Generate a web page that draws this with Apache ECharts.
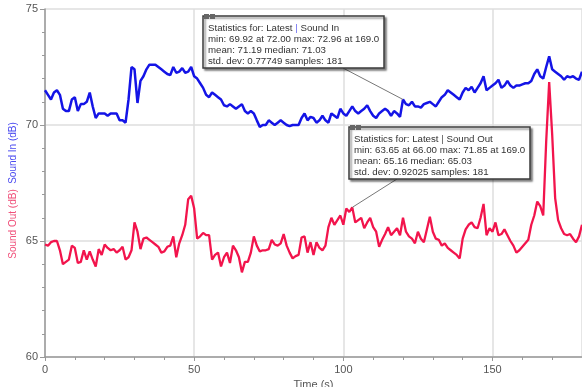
<!DOCTYPE html>
<html>
<head>
<meta charset="utf-8">
<script src="https://cdn.jsdelivr.net/npm/echarts@6/dist/echarts.min.js"></script>
<style>
  html, body { margin: 0; padding: 0; background: #fff; }
  #chart { width: 582px; height: 387px; }
</style>
</head>
<body>
<div id="chart"></div>
<script>
// time step is 1 s, samples 0..180
const timeStart = 0;
const timeStep = 1;

const soundIn = [
  71.5, 71.3, 71.1, 71.4, 71.5, 71.3, 70.7, 70.6, 70.6, 71.1,
  71.2, 70.6, 70.9, 70.9, 71.0, 71.4, 70.8, 70.3, 70.5, 70.5,
  70.5, 70.4, 70.5, 70.5, 70.5, 70.2, 70.2, 70.1, 71.1, 72.5,
  72.4, 70.95, 71.9, 72.1, 72.4, 72.6, 72.6, 72.6, 72.5, 72.4,
  72.3, 72.2, 72.15, 72.5, 72.25, 72.3, 72.45, 72.25, 72.3, 72.5,
  72.1, 72.0, 71.8, 71.6, 71.3, 71.2, 71.4, 71.3, 71.2, 71.1,
  70.85, 70.8, 70.9, 70.8, 70.7, 70.8, 70.9, 70.6, 70.5, 70.6,
  70.5, 70.2, 69.92, 70.0, 70.0, 70.2, 70.1, 70.0, 70.1, 70.2,
  70.1, 70.0, 69.95, 70.0, 70.0, 70.0, 70.3, 70.5, 70.2, 70.35,
  70.3, 70.1, 70.2, 70.4, 70.2, 70.1, 70.5, 70.4, 70.3, 70.7,
  70.5, 70.4, 70.6, 70.8, 70.6, 70.5, 70.6, 70.7, 70.85, 70.6,
  70.4, 70.3, 70.5, 70.6, 70.7, 70.6, 70.4, 70.6, 70.5, 70.35,
  71.1, 70.9, 70.85, 71.0, 70.8, 70.8, 70.75, 70.9, 70.95, 71.0,
  70.9, 70.8, 71.0, 71.2, 71.3, 71.5, 71.4, 71.3, 71.2, 71.1,
  71.4, 71.6, 71.5, 71.65, 71.4, 71.6, 71.8, 72.1, 71.5, 71.6,
  71.7, 71.8, 71.95, 71.6, 71.7, 71.9, 71.7, 71.6, 71.7, 71.7,
  71.75, 71.8, 71.8, 71.9, 72.2, 72.4, 72.1, 72.0, 72.5, 72.96,
  72.4, 72.3, 72.2, 72.1, 71.95, 72.1, 72.05, 72.1, 72.0, 71.95,
  72.3
];

const soundOut = [
  64.85, 64.8, 64.95, 65.0, 65.0, 64.6, 64.0, 64.1, 64.2, 64.8,
  64.7, 64.05, 64.1, 64.6, 64.2, 64.55, 64.2, 63.9, 64.65, 64.4,
  64.85, 64.7, 64.6, 64.65, 64.5, 64.6, 64.75, 64.2, 64.3, 64.6,
  65.8, 65.4, 64.65, 65.1, 65.15, 65.05, 64.95, 64.85, 64.75, 64.5,
  64.55, 64.75, 64.8, 65.2, 64.3, 64.9, 65.25, 65.7, 66.8, 66.95,
  66.4, 65.1, 65.2, 65.35, 65.25, 65.25, 64.2, 64.4, 64.5, 63.9,
  64.3, 64.5, 64.05, 64.8, 64.6, 64.3, 63.65, 64.1, 64.1, 64.5,
  65.2, 64.8, 64.55, 64.6, 64.6, 64.65, 65.05, 64.85, 64.8, 64.9,
  65.3, 64.8, 64.5, 64.25, 64.35, 64.4, 65.15, 65.2, 64.5, 64.95,
  64.4, 64.95, 64.7, 64.6, 64.8, 65.6, 66.0, 65.7, 65.9, 66.1,
  65.7, 66.4, 66.25, 66.45, 65.8, 65.9, 66.0, 65.55, 65.8, 66.0,
  65.6, 65.4, 64.75, 65.05, 65.3, 65.6, 65.25, 65.4, 65.55, 65.25,
  66.0, 65.4, 65.2, 65.1, 64.9, 65.4, 65.1, 64.95, 65.5, 66.05,
  65.4, 65.1, 65.05, 64.8, 64.9, 64.7, 64.6, 64.5, 64.4, 64.25,
  65.1, 65.5, 65.7, 65.8, 65.6, 65.55, 66.0, 66.6, 65.25, 65.55,
  65.4, 65.8, 65.25, 65.3, 65.5, 65.25, 65.0, 64.8, 64.5, 64.6,
  64.75, 64.9, 65.05, 65.7, 66.1, 66.7, 66.5, 66.1, 69.3, 71.85,
  69.6, 66.85, 65.9, 65.55, 65.3, 65.25, 65.3, 65.1, 64.95, 65.2,
  65.7
];

const statsIn = [
  'Statistics for: Latest | Sound In',
  'min: 69.92 at 72.00 max: 72.96 at 169.0',
  'mean: 71.19 median: 71.03',
  'std. dev: 0.77749 samples: 181'
];
const statsOut = [
  'Statistics for: Latest | Sound Out',
  'min: 63.65 at 66.00 max: 71.85 at 169.0',
  'mean: 65.16 median: 65.03',
  'std. dev: 0.92025 samples: 181'
];
// the point each stats box points to (time)
const anchorIn = 120;
const anchorOut = 103;

const blue = '#1414e6';
const red = '#f2144c';
const font = '"Liberation Sans", Arial, sans-serif';
const boxFont = '9.7px ' + font;

const toPairs = vals => vals.map((v, i) => [timeStart + i * timeStep, v]);

const chart = echarts.init(document.getElementById('chart'));

const option = {
  animation: false,
  grid: { left: 45, right: 0, top: 9, bottom: 30, outerBoundsMode: 'none' },
  xAxis: {
    type: 'value',
    min: 0,
    max: 180,
    interval: 50,
    name: 'Time (s)',
    nameLocation: 'middle',
    nameGap: 19,
    nameTextStyle: { color: '#555', fontSize: 11, fontFamily: font },
    axisLine: { lineStyle: { color: '#999', width: 1.5 } },
    axisTick: { show: true, length: 4, lineStyle: { color: '#999' } },
    minorTick: { show: true, splitNumber: 5, length: 3, lineStyle: { color: '#999' } },
    axisLabel: { color: '#555', fontSize: 11, fontFamily: font, margin: 7, showMaxLabel: false },
    splitLine: { show: true, lineStyle: { color: '#dedede', width: 1.5 } }
  },
  yAxis: {
    type: 'value',
    min: 60,
    max: 75,
    interval: 5,
    axisLine: { show: true, lineStyle: { color: '#999', width: 1.5 } },
    axisTick: { show: true, length: 5, lineStyle: { color: '#999' } },
    minorTick: { show: true, splitNumber: 5, length: 3, lineStyle: { color: '#999' } },
    axisLabel: { color: '#555', fontSize: 11, fontFamily: font, margin: 7 },
    splitLine: { show: true, lineStyle: { color: '#dedede', width: 1.5 } }
  },
  series: [
    {
      name: 'Sound In',
      type: 'line',
      showSymbol: false,
      data: toPairs(soundIn),
      lineStyle: { color: blue, width: 2.5 },
      itemStyle: { color: blue },
      z: 3
    },
    {
      name: 'Sound Out',
      type: 'line',
      showSymbol: false,
      data: toPairs(soundOut),
      lineStyle: { color: red, width: 2.3 },
      itemStyle: { color: red },
      z: 3
    }
  ]
};

chart.setOption(option);

function statsBox(x, y, w, h, lines, barColor, anchor, lineFrom) {
  return [
    {
      type: 'line', z: 50, silent: true,
      shape: { x1: lineFrom[0], y1: lineFrom[1], x2: anchor[0], y2: anchor[1] },
      style: { stroke: '#777', lineWidth: 1 }
    },
    {
      type: 'rect', z: 51, silent: true,
      shape: { x: x, y: y, width: w, height: h },
      style: {
        fill: '#fff', stroke: '#3c3c3c', lineWidth: 1.5,
        shadowBlur: 2, shadowOffsetX: 2, shadowOffsetY: 2, shadowColor: 'rgba(0,0,0,0.45)'
      }
    },
    {
      type: 'rect', z: 52, silent: true,
      shape: { x: x + 1, y: y - 2, width: 5, height: 5 },
      style: { fill: '#666' }
    },
    {
      type: 'rect', z: 52, silent: true,
      shape: { x: x + 7, y: y - 2, width: 5, height: 5 },
      style: { fill: '#666' }
    },
    {
      type: 'text', z: 53, silent: true,
      x: x + 5, y: y + 7,
      style: {
        text: '{t|' + lines[0].replace(' | ', ' }{b|| }{t|') + '}\n' + lines.slice(1).join('\n'),
        fill: '#333', font: boxFont, lineHeight: 11,
        rich: {
          t: { fill: '#333', font: boxFont, lineHeight: 11 },
          b: { fill: barColor, font: boxFont, lineHeight: 11 }
        }
      }
    }
  ];
}

const pIn = chart.convertToPixel({ seriesIndex: 0 }, [anchorIn, soundIn[anchorIn]]);
const pOut = chart.convertToPixel({ seriesIndex: 1 }, [anchorOut, soundOut[anchorOut]]);

chart.setOption({
  graphic: [
    // y axis titles, one per series, reading bottom to top
    {
      type: 'text', silent: true, x: 13, y: 153, rotation: Math.PI / 2,
      style: { text: 'Sound In (dB)', fill: '#4b4bf0', font: '10px ' + font, align: 'center', verticalAlign: 'middle' }
    },
    {
      type: 'text', silent: true, x: 13, y: 224, rotation: Math.PI / 2,
      style: { text: 'Sound Out (dB)', fill: '#f0507a', font: '10px ' + font, align: 'center', verticalAlign: 'middle' }
    },
    ...statsBox(203, 16, 181, 52, statsIn, '#6a6af0', pIn, [343, 68]),
    ...statsBox(349, 127, 181, 52, statsOut, '#555', pOut, [397, 179])
  ]
});
</script>
</body>
</html>
